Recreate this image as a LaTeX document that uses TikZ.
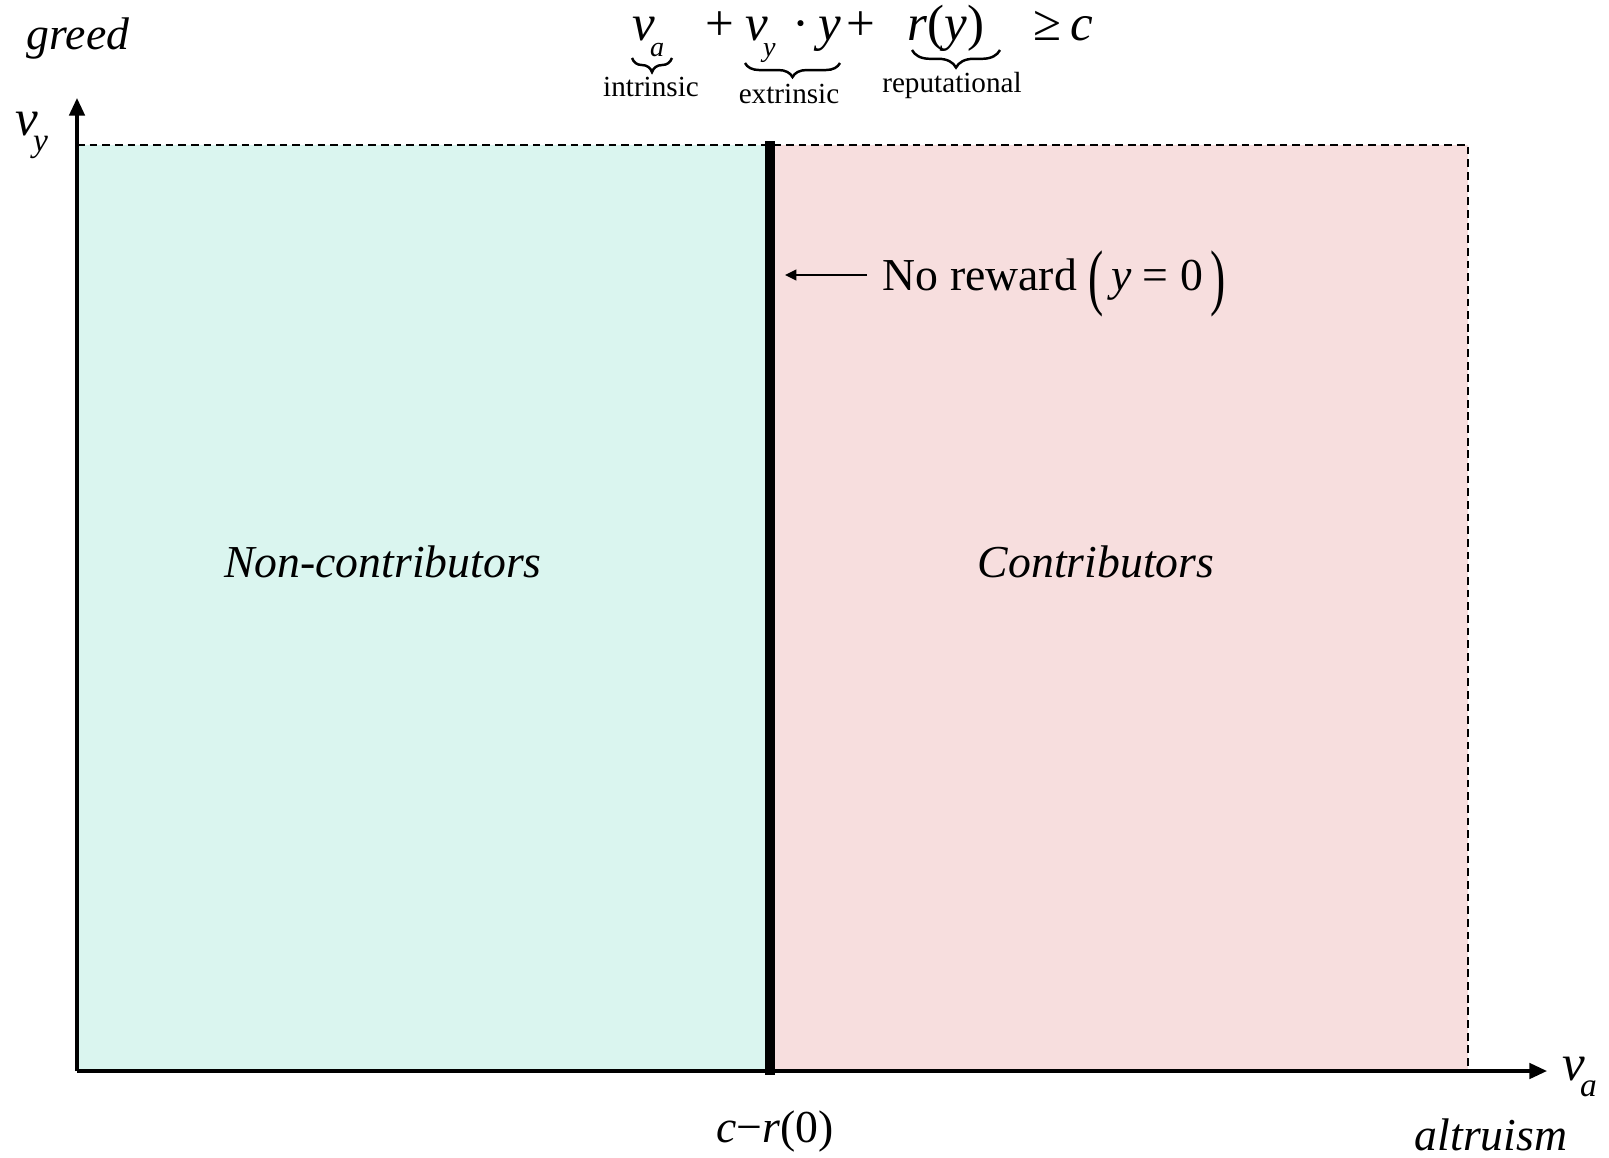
\documentclass[tikz,border=0pt]{standalone}
\usepackage{fontspec}
\setmainfont{Liberation Serif}
\usetikzlibrary{arrows.meta,decorations.pathreplacing}

\definecolor{noncol}{RGB}{218,245,239}
\definecolor{concol}{RGB}{247,222,222}

% variable with a lowered subscript
\newcommand{\varsub}[3][8]{{\itshape #2}\kern-1.5pt\raisebox{-4.8pt}{\fontsize{#1}{#1}\selectfont\itshape #3}}
\newcommand{\tallparen}[1]{\raisebox{-3.2pt}{\scalebox{1}[1.6]{#1}}}

\tikzset{
  axis/.style={line width=0.9pt, -{Triangle[length=5pt,width=4.4pt]}},
  border/.style={line width=0.6pt, dash pattern=on 2.2pt off 1.4pt},
  threshold/.style={line width=2.9pt},
  pointer/.style={line width=0.6pt, -{Triangle[length=3.2pt,width=3pt]}},
  brace/.style={decorate, decoration={brace, mirror, amplitude=#1}, line width=0.7pt},
  eqn/.style={inner sep=0pt, font=\fontsize{14.5}{16}\selectfont},
  lbl/.style={inner sep=0pt, font=\fontsize{8.3}{9}\selectfont},
  txt/.style={inner sep=0pt, font=\fontsize{13}{15}\selectfont},
  region/.style={inner sep=0pt, font=\fontsize{13}{15}\selectfont\itshape}
}

\begin{document}
\begin{tikzpicture}[x=0.01cm, y=-0.01cm]
\useasboundingbox (0,0) rectangle (1609,1157);

% Regions
\coordinate (tl) at (77,145);
\coordinate (tm) at (770,145);
\coordinate (tr) at (1468,145);
\coordinate (br) at (1468,1071);
\coordinate (bm) at (770,1071);
\fill[noncol] (tl) rectangle (bm);
\fill[concol] (tm) rectangle (br);
\draw[border] (tl) -- (tr) -- (br);

% Axes
\coordinate (o) at (77,1071);
\coordinate (ytop) at (77,98);
\coordinate (xend) at (1547,1071);
\draw[axis] (o) -- (ytop);
\draw[axis] (o) -- (xend);

% Threshold
\coordinate (thtop) at (770,141);
\coordinate (thbot) at (770,1075);
\draw[threshold] (thtop) -- (thbot);

% Axis labels
\node[region] (greed) at (78,39) {greed};
\node[eqn, anchor=base west] (vy) at (15,135) {\varsub[9.5]{v}{y}};
\node[eqn, anchor=base west] (va) at (1562,1080) {\varsub[9.5]{v}{a}};
\node[region] (altr) at (1491,1135) {altruism};
\node[txt] (cut) at (775,1131) {\textit{c}−\textit{r}(0)};

% Region labels
\node[region] (non) at (383,562) {Non-contributors};
\node[region] (con) at (1096,562) {Contributors};

% No reward
\node[txt, anchor=base west] (nr) at (882,290) {No reward \tallparen{(}\,\textit{y} = 0\,\tallparen{)}};
\coordinate (nrtip) at (785,275);
\draw[pointer] (nr.west |- nrtip) ++(-15,0) -- (nrtip);

% Equation
\node[eqn, anchor=base west] (ta) at (632,40) {\varsub{v}{a}};
\node[eqn, anchor=base] (p1) at (720,40) {+};
\node[eqn, anchor=base west] (tb) at (745,40) {\varsub{v}{y}\,\,·\,\textit{y}};
\node[eqn, anchor=base] (p2) at (861,40) {+};
\node[eqn, anchor=base west] (tc) at (907,40) {\textit{r}(\textit{y})};
\node[eqn, anchor=base west] (td) at (1033,40) {≥\,\textit{c}};

% Braces
\draw[brace=4pt] (632,58) -- (672,58);
\draw[brace=4pt] (745,63) -- (840,63);
\draw[brace=5pt] (912,50) -- (1000,50);
\node[lbl, anchor=base] (li) at (651,96) {intrinsic};
\node[lbl, anchor=base] (le) at (789,103) {extrinsic};
\node[lbl, anchor=base] (lr) at (952,92) {reputational};

\end{tikzpicture}
\end{document}
